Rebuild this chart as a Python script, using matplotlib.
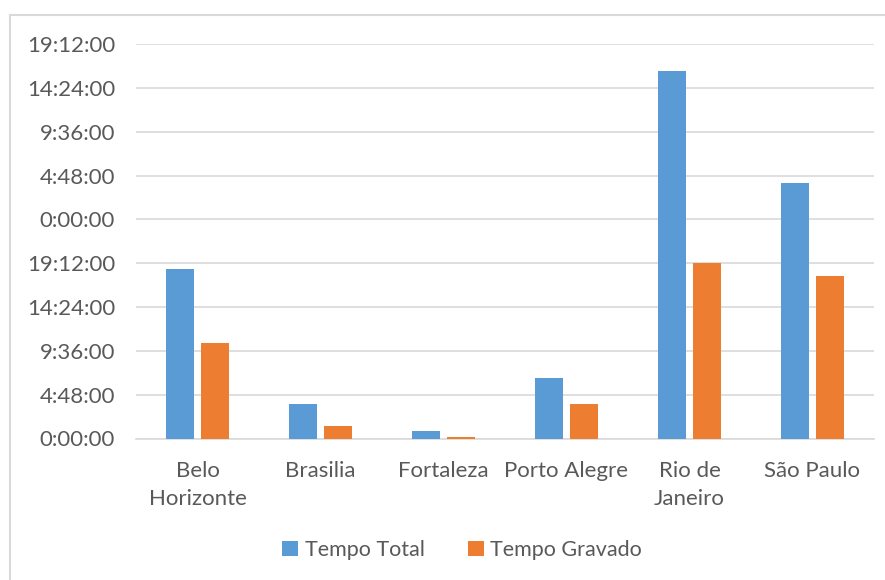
import matplotlib
matplotlib.use("Agg")
import matplotlib.pyplot as plt
from matplotlib.lines import Line2D
from matplotlib.ticker import FixedLocator, FuncFormatter
import numpy as np

# Durations in hours
categories = ["Belo\nHorizonte", "Brasilia", "Fortaleza", "Porto Alegre", "Rio de\nJaneiro", "São Paulo"]
tempo_total = [18.54, 3.78, 0.85, 6.60, 40.27, 28.00]
tempo_gravado = [10.50, 1.37, 0.20, 3.78, 19.23, 17.80]
series_names = ["Tempo Total", "Tempo Gravado"]

BLUE = "#5b9bd5"
ORANGE = "#ed7d31"
TEXT = "#595959"
GRID = "#d9d9d9"
FONT = ["Lato", "DejaVu Sans"]

plt.rcParams["font.family"] = FONT

fig = plt.figure(figsize=(8.85, 5.8), dpi=100)
W, H = 885, 580
ax = fig.add_axes([136 / W, 1 - 438.5 / H, (874 - 136) / W, (438.5 - 44) / H])

x = np.arange(len(categories))
bw = 0.22
gap = 0.065
ax.bar(x - (bw + gap) / 2, tempo_total, bw, color=BLUE, label=series_names[0], zorder=3)
ax.bar(x + (bw + gap) / 2, tempo_gravado, bw, color=ORANGE, label=series_names[1], zorder=3)

step = 4.8
ax.set_ylim(0, 9 * step)
ax.set_xlim(-0.5, len(categories) - 0.5)
ax.yaxis.set_major_locator(FixedLocator([i * step for i in range(10)]))


def fmt(v, pos):
    total_min = int(round(v * 60)) % (24 * 60)
    return f"{total_min // 60}:{total_min % 60:02d}:00"


ax.yaxis.set_major_formatter(FuncFormatter(fmt))
ax.grid(axis="y", color=GRID, linewidth=1.2, zorder=0)
ax.set_axisbelow(True)
for s in ["top", "right", "left"]:
    ax.spines[s].set_visible(False)
ax.spines["bottom"].set_color(GRID)
ax.spines["bottom"].set_linewidth(1.2)
ax.tick_params(axis="both", length=0, colors=TEXT, labelsize=16)
ax.tick_params(axis="y", pad=15)
ax.tick_params(axis="x", pad=16)
ax.set_xticks(x)
ax.set_xticklabels(categories, linespacing=1.5)

leg = fig.legend(loc="center", bbox_to_anchor=(0.522, 1 - 550 / H), ncol=2, frameon=False,
                 fontsize=15.5, handlelength=0.75, handleheight=0.75, handletextpad=0.3,
                 columnspacing=2.0, labelcolor=TEXT)

# chart area border
fig.add_artist(Line2D([10 / W, 10 / W], [0, 1 - 15 / H], transform=fig.transFigure, color=GRID, lw=1.5))
fig.add_artist(Line2D([10 / W, 1], [1 - 15 / H, 1 - 15 / H], transform=fig.transFigure, color=GRID, lw=1.5))

fig.savefig("out.png", dpi=100, facecolor="white")
